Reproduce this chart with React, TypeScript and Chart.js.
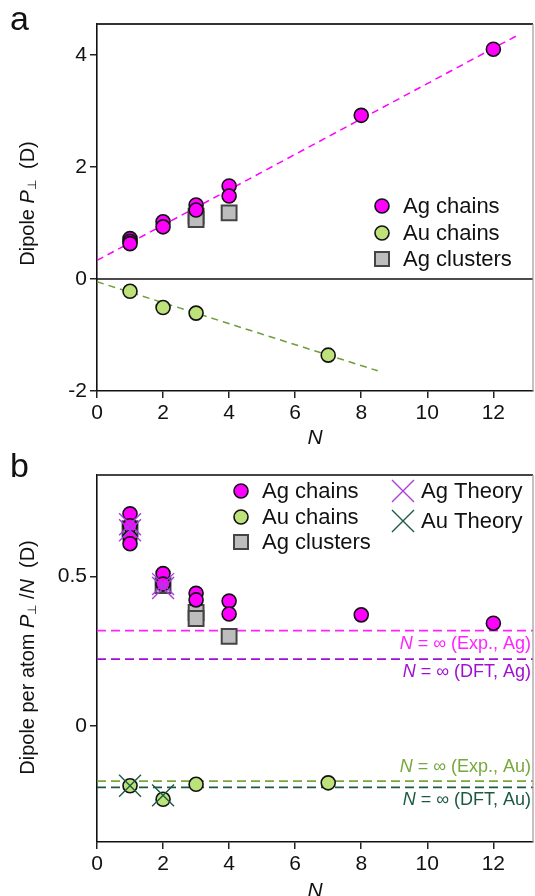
import React, { useEffect, useRef } from 'react';
import { Chart, registerables } from 'chart.js';
Chart.register(...registerables);

const FONT = '"Liberation Sans", Arial, Helvetica, sans-serif';

// ---------- Panel a : total dipole ----------
const agChainN = [1, 1, 1, 2, 2, 3, 3, 4, 4, 8, 12];
const agChainP = [0.72, 0.67, 0.63, 1.02, 0.93, 1.32, 1.23, 1.66, 1.48, 2.92, 4.1];
const auChainN = [1, 2, 3, 7];
const auChainP = [-0.22, -0.51, -0.61, -1.36];
const agClusterN = [3, 3, 4];
const agClusterP = [1.12, 1.06, 1.18];
const agFitN = [0, 12.8];
const agFitP = [0.33, 4.37];
const auFitN = [0, 8.5];
const auFitP = [-0.05, -1.64];
const xTicks = [0, 2, 4, 6, 8, 10, 12];
const yTicksA = [-2, 0, 2, 4];

// ---------- Panel b : dipole per atom ----------
const agChainPerN = [1, 1, 1, 1, 2, 2, 3, 3, 4, 4, 8, 12];
const agChainPer = [0.71, 0.67, 0.63, 0.61, 0.51, 0.475, 0.444, 0.422, 0.418, 0.375, 0.372, 0.344];
const auChainPerN = [1, 2, 3, 7];
const auChainPer = [-0.2, -0.245, -0.195, -0.19];
const agClusterPerN = [1, 2, 3, 3, 4];
const agClusterPer = [0.66, 0.47, 0.38, 0.36, 0.3];
const agTheoryN = [1, 1, 2, 2];
const agTheoryPer = [0.675, 0.655, 0.475, 0.462];
const auTheoryN = [1, 2];
const auTheoryPer = [-0.2, -0.232];
const limitNames = ['(Exp., Ag)', '(DFT, Ag)', '(Exp., Au)', '(DFT, Au)'];
const limitValues = [0.319, 0.224, -0.184, -0.205];
const limitColors = ['#ff22ff', '#a010d0', '#76a83c', '#1b5a40'];
const limitLabelAbove = [false, false, true, false];
const yTicksB = [0, 0.5];

const X_MIN = 0;
const X_MAX = 13.2;

const MAGENTA = '#ff00ff';
const AU_FILL = '#bde27a';
const GRAY_FILL = '#bdbdbd';
const AG_THEORY = '#a83ee0';
const AU_THEORY = '#1d5c44';

const pts = (xs: number[], ys: number[]) => xs.map((x, i) => ({ x, y: ys[i] }));

type Seg = { t: string; f: string; dy?: number };

function measure(ctx: CanvasRenderingContext2D, segs: Seg[]) {
  let total = 0;
  const widths = segs.map((s) => {
    ctx.font = s.f;
    const w = ctx.measureText(s.t).width;
    total += w;
    return w;
  });
  return { total, widths };
}

function drawRich(ctx: CanvasRenderingContext2D, segs: Seg[], cx: number, cy: number, rot: number, color: string) {
  ctx.save();
  ctx.translate(cx, cy);
  ctx.rotate(rot);
  ctx.fillStyle = color;
  ctx.textBaseline = 'middle';
  ctx.textAlign = 'left';
  const { total, widths } = measure(ctx, segs);
  let x = -total / 2;
  segs.forEach((s, i) => {
    ctx.font = s.f;
    ctx.fillText(s.t, x, s.dy || 0);
    x += widths[i];
  });
  ctx.restore();
}

function drawRichRight(ctx: CanvasRenderingContext2D, segs: Seg[], right: number, cy: number, color: string) {
  ctx.save();
  ctx.fillStyle = color;
  ctx.textBaseline = 'middle';
  ctx.textAlign = 'left';
  const { total, widths } = measure(ctx, segs);
  let x = right - total;
  segs.forEach((s, i) => {
    ctx.font = s.f;
    ctx.fillText(s.t, x, cy + (s.dy || 0));
    x += widths[i];
  });
  ctx.restore();
}

function marker(ctx: CanvasRenderingContext2D, kind: string, x: number, y: number) {
  ctx.save();
  if (kind === 'ag' || kind === 'au') {
    ctx.beginPath();
    ctx.arc(x, y, 7, 0, Math.PI * 2);
    ctx.fillStyle = kind === 'ag' ? MAGENTA : AU_FILL;
    ctx.fill();
    ctx.lineWidth = 1.6;
    ctx.strokeStyle = '#111';
    ctx.stroke();
  } else if (kind === 'cl') {
    ctx.fillStyle = GRAY_FILL;
    ctx.fillRect(x - 7, y - 7, 14, 14);
    ctx.lineWidth = 2;
    ctx.strokeStyle = '#444';
    ctx.strokeRect(x - 7, y - 7, 14, 14);
  } else {
    ctx.strokeStyle = kind === 'agT' ? AG_THEORY : AU_THEORY;
    ctx.lineWidth = 1.4;
    ctx.beginPath();
    ctx.moveTo(x - 11, y - 11);
    ctx.lineTo(x + 11, y + 11);
    ctx.moveTo(x + 11, y - 11);
    ctx.lineTo(x - 11, y + 11);
    ctx.stroke();
  }
  ctx.restore();
}

function frame(ctx: CanvasRenderingContext2D, ca: any, topColor: string) {
  ctx.save();
  ctx.lineWidth = 1.8;
  ctx.strokeStyle = topColor;
  ctx.beginPath();
  ctx.moveTo(ca.left, ca.top);
  ctx.lineTo(ca.right, ca.top);
  ctx.stroke();
  ctx.lineWidth = 1.2;
  ctx.strokeStyle = '#9a9a9a';
  ctx.beginPath();
  ctx.moveTo(ca.right, ca.top);
  ctx.lineTo(ca.right, ca.bottom);
  ctx.stroke();
  ctx.restore();
}

function baseScales(yMin: number, yMax: number, yTicks: number[], yWidth: number, xHeight: number) {
  return {
    x: {
      type: 'linear',
      min: X_MIN,
      max: X_MAX,
      afterBuildTicks: (s: any) => {
        s.ticks = xTicks.map((v) => ({ value: v }));
      },
      afterFit: (s: any) => {
        s.height = xHeight;
        s.paddingLeft = 0;
        s.paddingRight = 0;
      },
      ticks: { font: { family: FONT, size: 21 }, color: '#111', padding: 3, maxRotation: 0, autoSkip: false },
      grid: { drawOnChartArea: false, tickLength: 7, tickColor: '#222', lineWidth: 1.5 },
      border: { color: '#111', width: 1.6 },
    },
    y: {
      type: 'linear',
      min: yMin,
      max: yMax,
      afterBuildTicks: (s: any) => {
        s.ticks = yTicks.map((v) => ({ value: v }));
      },
      afterFit: (s: any) => {
        s.width = yWidth;
        s.paddingTop = 0;
        s.paddingBottom = 0;
      },
      ticks: {
        font: { family: FONT, size: 21 },
        color: '#111',
        padding: 3,
        callback: (v: any) => (v < 0 ? '-' + Math.abs(v) : String(v)),
      },
      grid: {
        drawOnChartArea: false,
        tickLength: 7,
        tickColor: '#222',
        lineWidth: 1.5,
      },
      border: { color: '#111', width: 1.6 },
    },
  };
}

function ChartA() {
  const ref = useRef<HTMLCanvasElement>(null);
  useEffect(() => {
    const plugin = {
      id: 'decorA',
      beforeDatasetsDraw(chart: any) {
        const { ctx, chartArea: ca, scales } = chart;
        const y0 = scales.y.getPixelForValue(0);
        ctx.save();
        ctx.strokeStyle = '#111';
        ctx.lineWidth = 1.6;
        ctx.beginPath();
        ctx.moveTo(ca.left, y0);
        ctx.lineTo(ca.right, y0);
        ctx.stroke();
        ctx.restore();
      },
      afterDraw(chart: any) {
        const { ctx, chartArea: ca } = chart;
        frame(ctx, ca, '#333');
        ctx.save();
        ctx.fillStyle = '#111';
        ctx.font = `34px ${FONT}`;
        ctx.textBaseline = 'alphabetic';
        ctx.fillText('a', 10, 30);
        ctx.restore();
        drawRich(
          ctx,
          [
            { t: 'Dipole ', f: `20px ${FONT}` },
            { t: 'P', f: `italic 20px ${FONT}` },
            { t: '⊥', f: `12px ${FONT}`, dy: 5 },
            { t: '  (D)', f: `20px ${FONT}` },
          ],
          28,
          (ca.top + ca.bottom) / 2 - 4,
          -Math.PI / 2,
          '#111'
        );
        ctx.save();
        ctx.fillStyle = '#111';
        ctx.font = `italic 21px ${FONT}`;
        ctx.textAlign = 'center';
        ctx.textBaseline = 'alphabetic';
        ctx.fillText('N', 315, 444);
        // legend
        const items = [
          ['ag', 'Ag chains', 206],
          ['au', 'Au chains', 233],
          ['cl', 'Ag clusters', 259],
        ];
        items.forEach(([k, t, y]: any) => {
          marker(ctx, k, 382, y);
          ctx.fillStyle = '#111';
          ctx.font = `22px ${FONT}`;
          ctx.textAlign = 'left';
          ctx.textBaseline = 'middle';
          ctx.fillText(t, 403, y + 1);
        });
        ctx.restore();
      },
    };
    const chart = new Chart(ref.current!, {
      type: 'scatter',
      data: {
        datasets: [
          {
            type: 'line',
            data: pts(agFitN, agFitP),
            borderColor: MAGENTA,
            borderWidth: 1.5,
            borderDash: [7, 5],
            pointRadius: 0,
            order: 10,
          },
          {
            type: 'line',
            data: pts(auFitN, auFitP),
            borderColor: '#6e9e3c',
            borderWidth: 1.5,
            borderDash: [7, 5],
            pointRadius: 0,
            order: 10,
          },
          {
            data: pts(agClusterN, agClusterP),
            pointStyle: 'rect',
            pointRadius: 10.5,
            backgroundColor: GRAY_FILL,
            borderColor: '#444',
            borderWidth: 2,
            order: 5,
          },
          {
            data: pts(auChainN, auChainP),
            pointStyle: 'circle',
            pointRadius: 7,
            backgroundColor: AU_FILL,
            borderColor: '#111',
            borderWidth: 1.6,
            order: 4,
          },
          {
            data: pts(agChainN, agChainP),
            pointStyle: 'circle',
            pointRadius: 7,
            backgroundColor: MAGENTA,
            borderColor: '#111',
            borderWidth: 1.6,
            order: 3,
          },
        ] as any,
      },
      options: {
        responsive: false,
        animation: false,
        devicePixelRatio: 1,
        layout: { autoPadding: false, padding: { top: 24, right: 2, left: 0, bottom: 11 } },
        plugins: { legend: { display: false }, tooltip: { enabled: false } },
        scales: baseScales(-2, 4.55, yTicksA, 97, 49) as any,
      },
      plugins: [plugin],
    });
    return () => chart.destroy();
  }, []);
  return <canvas ref={ref} width={535} height={451} style={{ position: 'absolute', left: 0, top: 0, width: 535, height: 451 }} />;
}

function ChartB() {
  const ref = useRef<HTMLCanvasElement>(null);
  useEffect(() => {
    const plugin = {
      id: 'decorB',
      afterDraw(chart: any) {
        const { ctx, chartArea: ca, scales } = chart;
        frame(ctx, ca, '#444');
        ctx.save();
        ctx.fillStyle = '#111';
        ctx.font = `34px ${FONT}`;
        ctx.textBaseline = 'alphabetic';
        ctx.fillText('b', 10, 37);
        ctx.restore();
        drawRich(
          ctx,
          [
            { t: 'Dipole per atom ', f: `20px ${FONT}` },
            { t: 'P', f: `italic 20px ${FONT}` },
            { t: '⊥', f: `12px ${FONT}`, dy: 5 },
            { t: ' /', f: `20px ${FONT}` },
            { t: 'N', f: `italic 20px ${FONT}` },
            { t: '  (D)', f: `20px ${FONT}` },
          ],
          28,
          (ca.top + ca.bottom) / 2 - 1,
          -Math.PI / 2,
          '#111'
        );
        ctx.save();
        ctx.fillStyle = '#111';
        ctx.font = `italic 21px ${FONT}`;
        ctx.textAlign = 'center';
        ctx.textBaseline = 'alphabetic';
        ctx.fillText('N', 315, 457);
        ctx.restore();
        // limit labels
        limitValues.forEach((v, i) => {
          const yp = scales.y.getPixelForValue(v);
          const cy = limitLabelAbove[i] ? yp - 14 : yp + 13;
          drawRichRight(
            ctx,
            [
              { t: 'N', f: `italic 18px ${FONT}` },
              { t: ' = ∞ ' + limitNames[i], f: `18px ${FONT}` },
            ],
            ca.right - 2,
            cy,
            limitColors[i]
          );
        });
        // legend
        ctx.save();
        const left = [
          ['ag', 'Ag chains', 51],
          ['au', 'Au chains', 77],
          ['cl', 'Ag clusters', 102],
        ];
        left.forEach(([k, t, y]: any) => {
          marker(ctx, k, 241, y);
          ctx.fillStyle = '#111';
          ctx.font = `22px ${FONT}`;
          ctx.textAlign = 'left';
          ctx.textBaseline = 'middle';
          ctx.fillText(t, 262, y + 1);
        });
        const right = [
          ['agT', 'Ag Theory', 51],
          ['auT', 'Au Theory', 81],
        ];
        right.forEach(([k, t, y]: any) => {
          marker(ctx, k, 403, y);
          ctx.fillStyle = '#111';
          ctx.font = `22px ${FONT}`;
          ctx.textAlign = 'left';
          ctx.textBaseline = 'middle';
          ctx.fillText(t, 421, y + 1);
        });
        ctx.restore();
      },
    };
    const limitSets = limitValues.map((v, i) => ({
      type: 'line',
      data: [
        { x: X_MIN, y: v },
        { x: X_MAX, y: v },
      ],
      borderColor: limitColors[i],
      borderWidth: 1.8,
      borderDash: [9, 5],
      pointRadius: 0,
      order: 10,
    }));
    const chart = new Chart(ref.current!, {
      type: 'scatter',
      data: {
        datasets: [
          ...limitSets,
          {
            data: pts(agClusterPerN, agClusterPer),
            pointStyle: 'rect',
            pointRadius: 10.5,
            backgroundColor: GRAY_FILL,
            borderColor: '#444',
            borderWidth: 2,
            order: 6,
          },
          {
            data: pts(auChainPerN, auChainPer),
            pointStyle: 'circle',
            pointRadius: 7,
            backgroundColor: AU_FILL,
            borderColor: '#111',
            borderWidth: 1.6,
            order: 5,
          },
          {
            data: pts(agChainPerN, agChainPer),
            pointStyle: 'circle',
            pointRadius: 7,
            backgroundColor: MAGENTA,
            borderColor: '#111',
            borderWidth: 1.6,
            order: 4,
          },
          {
            data: pts(agTheoryN, agTheoryPer),
            pointStyle: 'crossRot',
            pointRadius: 15.5,
            borderColor: AG_THEORY,
            borderWidth: 1.4,
            order: 2,
          },
          {
            data: pts(auTheoryN, auTheoryPer),
            pointStyle: 'crossRot',
            pointRadius: 15.5,
            borderColor: AU_THEORY,
            borderWidth: 1.4,
            order: 2,
          },
        ] as any,
      },
      options: {
        responsive: false,
        animation: false,
        devicePixelRatio: 1,
        layout: { autoPadding: false, padding: { top: 35, right: 2, left: 0, bottom: 0 } },
        plugins: { legend: { display: false }, tooltip: { enabled: false } },
        scales: baseScales(-0.388, 0.84, yTicksB, 97, 54) as any,
      },
      plugins: [plugin],
    });
    return () => chart.destroy();
  }, []);
  return <canvas ref={ref} width={535} height={456} style={{ position: 'absolute', left: 0, top: 440, width: 535, height: 456 }} />;
}

export default function App() {
  return (
    <div style={{ position: 'absolute', left: 0, top: 0, width: 535, height: 896, background: '#fff', overflow: 'hidden' }}>
      <ChartA />
      <ChartB />
    </div>
  );
}
